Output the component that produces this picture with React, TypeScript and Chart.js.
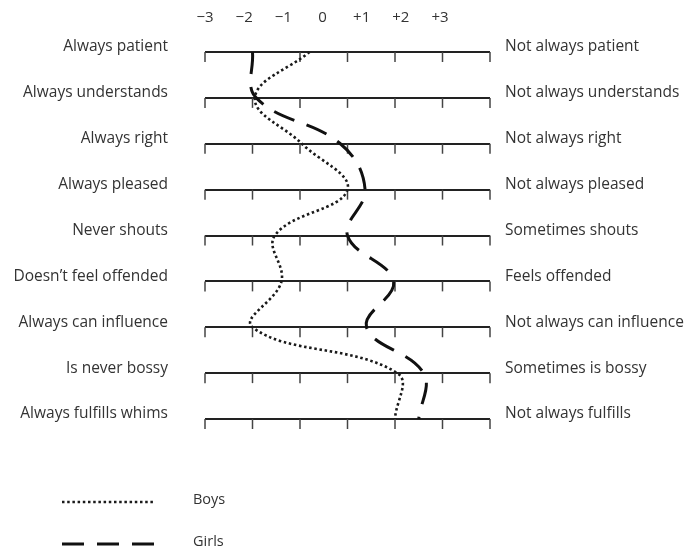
import { useEffect, useRef } from "react";
import { Chart, registerables } from "chart.js";

Chart.register(...registerables);

const leftLabels = [
  "Always patient",
  "Always understands",
  "Always right",
  "Always pleased",
  "Never shouts",
  "Doesn’t feel offended",
  "Always can influence",
  "Is never bossy",
  "Always fulfills whims",
];
const rightLabels = [
  "Not always patient",
  "Not always understands",
  "Not always right",
  "Not always pleased",
  "Sometimes shouts",
  "Feels offended",
  "Not always can influence",
  "Sometimes is bossy",
  "Not always fulfills",
];
const scaleTicks = [-3, -2, -1, 0, 1, 2, 3];
const boys = [-0.8, -1.95, -0.96, 0.0, -1.53, -1.39, -2.0, 1.05, 1.0];
const girls = [-2.0, -1.92, -0.15, 0.37, 0.0, 0.97, 0.4, 1.6, 1.5];
const seriesNames = ["Boys", "Girls"];

const fmt = (v: number) => (v > 0 ? `+${v}` : v < 0 ? `−${Math.abs(v)}` : "0");

const FONT = "'Open Sans'";
const TEXT = "#333";

const rowTicksPlugin = {
  id: "rowTicks",
  beforeDatasetsDraw(chart: any) {
    const { ctx } = chart;
    const xs = chart.scales.x;
    const ys = chart.scales.y;
    ctx.save();
    ctx.strokeStyle = "#444";
    ctx.lineWidth = 1.5;
    leftLabels.forEach((_, i) => {
      const y = ys.getPixelForValue(i);
      scaleTicks.forEach((v) => {
        const x = xs.getPixelForValue(v);
        ctx.beginPath();
        ctx.moveTo(x, y);
        ctx.lineTo(x, y + 10);
        ctx.stroke();
      });
    });
    ctx.restore();
  },
};

const stackLegendPlugin = {
  id: "stackLegend",
  afterDraw(chart: any, _args: any, opts: any) {
    const { ctx } = chart;
    ctx.save();
    chart.data.datasets.forEach((ds: any, i: number) => {
      const y = opts.top + i * opts.gap;
      ctx.strokeStyle = ds.borderColor;
      ctx.lineWidth = ds.borderWidth;
      ctx.setLineDash(ds.borderDash || []);
      ctx.beginPath();
      ctx.moveTo(opts.left, y);
      ctx.lineTo(opts.left + opts.lineWidth, y);
      ctx.stroke();
      ctx.setLineDash([]);
      ctx.fillStyle = TEXT;
      ctx.font = `14.5px ${FONT}`;
      ctx.textBaseline = "middle";
      ctx.textAlign = "left";
      ctx.fillText(ds.label, opts.textLeft, y - 2);
    });
    ctx.restore();
  },
};

const zeroPad = (s: any) => {
  s.paddingTop = 0;
  s.paddingBottom = 0;
  s.paddingLeft = 0;
  s.paddingRight = 0;
};

export default function App() {
  const ref = useRef<HTMLCanvasElement | null>(null);

  useEffect(() => {
    document.body.style.margin = "0";
    if (!ref.current) return;
    const chart = new Chart(ref.current, {
      type: "line",
      data: {
        labels: leftLabels,
        datasets: [
          {
            label: seriesNames[0],
            data: boys,
            borderColor: "#1a1a1a",
            borderWidth: 2.6,
            borderDash: [2.5, 2.7],
            borderCapStyle: "butt",
            pointRadius: 0,
            tension: 0.4,
            fill: false,
          },
          {
            label: seriesNames[1],
            data: girls,
            borderColor: "#111",
            borderWidth: 3,
            borderDash: [22, 13],
            borderCapStyle: "butt",
            pointRadius: 0,
            tension: 0.4,
            fill: false,
          },
        ],
      },
      options: {
        indexAxis: "y",
        responsive: false,
        animation: false,
        layout: { padding: { top: 0, left: 0, right: 0, bottom: 132 } },
        scales: {
          x: {
            type: "linear",
            min: -3,
            max: 3,
            position: "bottom",
            ticks: { display: false, stepSize: 1 },
            grid: { display: false },
            border: { display: false },
            afterFit: (s: any) => {
              s.height = 0;
              zeroPad(s);
            },
          },
          xTop: {
            type: "linear",
            position: "top",
            min: -3,
            max: 4.276,
            afterBuildTicks: (s: any) => {
              s.ticks = scaleTicks.map((v) => ({ value: v }));
            },
            ticks: {
              callback: (v: any) => fmt(Number(v)),
              font: { family: FONT, size: 15 },
              color: TEXT,
              padding: 17,
              maxRotation: 0,
              autoSkip: false,
            },
            grid: { display: false },
            border: { display: false },
            afterFit: (s: any) => {
              s.height = 52;
              zeroPad(s);
            },
          },
          y: {
            type: "category",
            position: "left",
            grid: { color: "#222", lineWidth: 2, drawTicks: false },
            border: { display: false },
            ticks: {
              font: { family: FONT, size: 15.5 },
              color: TEXT,
              padding: 37,
              labelOffset: -5,
              autoSkip: false,
            },
            afterFit: (s: any) => {
              s.width = 205;
              zeroPad(s);
            },
          },
          yR: {
            type: "category",
            position: "right",
            labels: rightLabels,
            grid: { display: false, drawTicks: false },
            border: { display: false },
            ticks: {
              font: { family: FONT, size: 15.5 },
              color: TEXT,
              padding: 15,
              labelOffset: -5,
              autoSkip: false,
            },
            afterFit: (s: any) => {
              s.width = 197;
              zeroPad(s);
            },
          },
        },
        plugins: {
          legend: { display: false },
          tooltip: { enabled: false },
          stackLegend: { left: 62, top: 502, gap: 42, lineWidth: 93, textLeft: 193 },
        } as any,
      },
      plugins: [rowTicksPlugin, stackLegendPlugin],
    } as any);
    return () => chart.destroy();
  }, []);

  return (
    <div style={{ width: 687, height: 551 }}>
      <canvas ref={ref} width={687} height={551} style={{ display: "block" }} />
    </div>
  );
}
